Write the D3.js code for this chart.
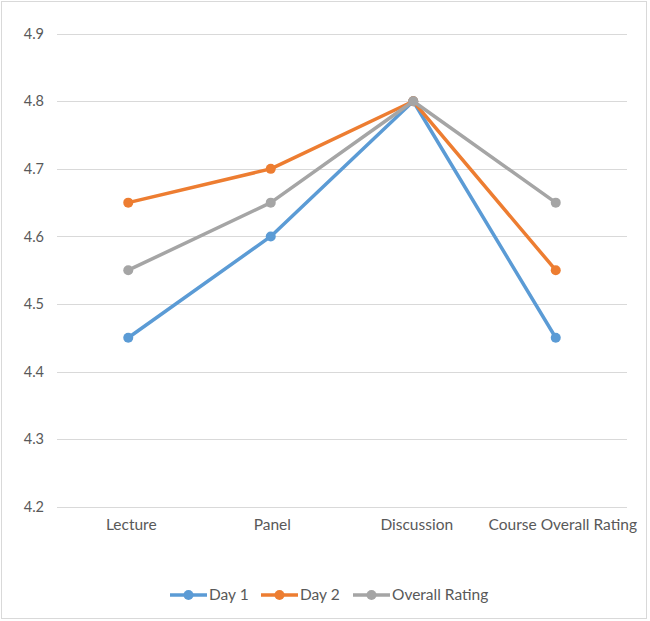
<!DOCTYPE html>
<html><head><meta charset="utf-8">
<script src="https://cdn.jsdelivr.net/npm/d3@7"></script>
<style>body{margin:0;background:#fff}svg{display:block}text{font-family:Lato,"Open Sans",sans-serif;fill:#595959}</style>
</head><body><svg id="c" width="650" height="621"></svg>
<script>
const categories = ["Lecture","Panel","Discussion","Course Overall Rating"];
const day1 = [4.45,4.6,4.8,4.45];
const day2 = [4.65,4.7,4.8,4.55];
const overall = [4.55,4.65,4.8,4.65];
const yTicks = [4.2,4.3,4.4,4.5,4.6,4.7,4.8,4.9];
const seriesNames = ["Day 1","Day 2","Overall Rating"];
const colors = ["#5B9BD5","#ED7D31","#A5A5A5"];
const series = [day1,day2,overall];

const svg = d3.select("#c");
svg.append("rect").attr("x",1.5).attr("y",1.5).attr("width",645).attr("height",617).attr("fill","#fff").attr("stroke","#D9D9D9").attr("stroke-width",1);
const x = d3.scaleBand().domain(categories).range([57,627]);
const y = d3.scaleLinear().domain([4.2,4.9]).range([506.7,33.7]);

const grid = svg.append("g");
grid.selectAll("line").data(yTicks).join("line")
 .attr("x1",57).attr("x2",627).attr("y1",d=>Math.round(y(d))+0.5).attr("y2",d=>Math.round(y(d))+0.5)
 .attr("stroke","#D9D9D9").attr("stroke-width",1);
const yAxis = d3.axisLeft(y).tickValues(yTicks).tickFormat(d3.format(".1f")).tickSize(0).tickPadding(13);
const ya = svg.append("g").attr("transform","translate(57,0)").call(yAxis);
ya.select(".domain").remove();
ya.selectAll("text").style("font-size","14.5px").style("fill","#595959").style("font-family","Lato,'Open Sans',sans-serif");

const labelShift = [3,1.5,3.5,7];
const xAxis = d3.axisBottom(x).tickSize(0).tickPadding(12);
const xa = svg.append("g").attr("transform","translate(0,506.7)").call(xAxis);
xa.select(".domain").remove();
xa.selectAll("text").attr("dx",(d,i)=>labelShift[i]).style("font-size","15.5px").style("fill","#595959").style("font-family","Lato,'Open Sans',sans-serif");

const line = d3.line().x((d,i)=>x(categories[i])+x.bandwidth()/2).y(d=>y(d));
series.forEach((s,k)=>{
  const g = svg.append("g");
  g.append("path").attr("d",line(s)).attr("fill","none").attr("stroke",colors[k]).attr("stroke-width",3.5).attr("stroke-linejoin","round").attr("stroke-linecap","round");
  g.selectAll("circle").data(s).join("circle")
   .attr("cx",(d,i)=>x(categories[i])+x.bandwidth()/2).attr("cy",d=>y(d)).attr("r",5).attr("fill",colors[k]);
});

const legX = [170,261,353];
const lg = svg.append("g");
seriesNames.forEach((n,k)=>{
  const lx = legX[k], ly = 595;
  lg.append("line").attr("x1",lx).attr("x2",lx+37).attr("y1",ly).attr("y2",ly).attr("stroke",colors[k]).attr("stroke-width",3.5);
  lg.append("circle").attr("cx",lx+18.5).attr("cy",ly).attr("r",5).attr("fill",colors[k]);
  lg.append("text").attr("x",lx+39).attr("y",ly).attr("dy","0.35em").style("font-size","15.5px").text(n);
});
</script></body></html>
